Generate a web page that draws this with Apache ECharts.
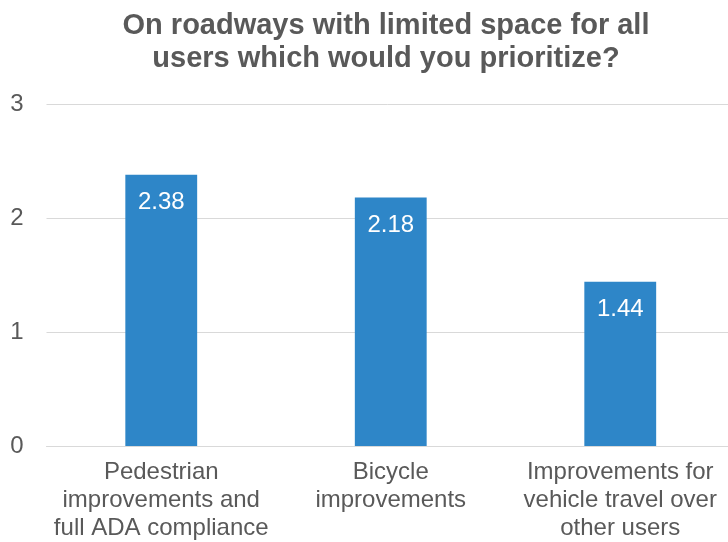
<!DOCTYPE html>
<html><head><meta charset="utf-8">
<script src="https://cdn.jsdelivr.net/npm/echarts@6/dist/echarts.min.js"></script>
<style>html,body{margin:0;padding:0;background:#fff}#c{width:728px;height:542px}</style>
</head><body><div id="c"></div>
<script>
const titleText = "On roadways with limited space for all\nusers which would you prioritize?";
const categories = ["Pedestrian\nimprovements and\nfull ADA compliance", "Bicycle\nimprovements", "Improvements for\nvehicle travel over\nother users"];
const values = [2.38, 2.18, 1.44];
const yTicks = [0, 1, 2, 3];

const chart = echarts.init(document.getElementById('c'), null, {renderer: 'canvas'});
chart.setOption({
  animation: false,
  backgroundColor: '#fff',
  textStyle: {fontFamily: 'Liberation Sans, Arial, sans-serif'},
  title: {
    text: titleText, left: 381, top: 4, textAlign: 'center',
    textStyle: {fontSize: 29, fontWeight: 'bold', color: '#595959', lineHeight: 33, fontFamily: 'Liberation Sans, Arial, sans-serif'}
  },
  grid: {left: 46.5, width: 688.5, top: 104, height: 342, containLabel: false, outerBoundsMode: 'none'},
  xAxis: {
    type: 'category', data: categories,
    axisLine: {show: true, lineStyle: {color: '#d9d9d9', width: 1}},
    axisTick: {show: false},
    axisLabel: {color: '#595959', fontSize: 24, lineHeight: 28, margin: 12, interval: 0}
  },
  yAxis: {
    type: 'value', min: yTicks[0], max: yTicks[yTicks.length - 1], interval: 1,
    axisLine: {show: false}, axisTick: {show: false},
    splitLine: {lineStyle: {color: '#d9d9d9', width: 1}},
    axisLabel: {color: '#595959', fontSize: 24, margin: 23}
  },
  series: [{
    type: 'bar', data: values, barWidth: '31.3%',
    itemStyle: {color: '#2E86C8'},
    label: {show: true, position: 'insideTop', distance: 16, color: '#fff', fontSize: 24,
      formatter: p => p.value.toFixed(2)}
  }]
});
</script></body></html>
